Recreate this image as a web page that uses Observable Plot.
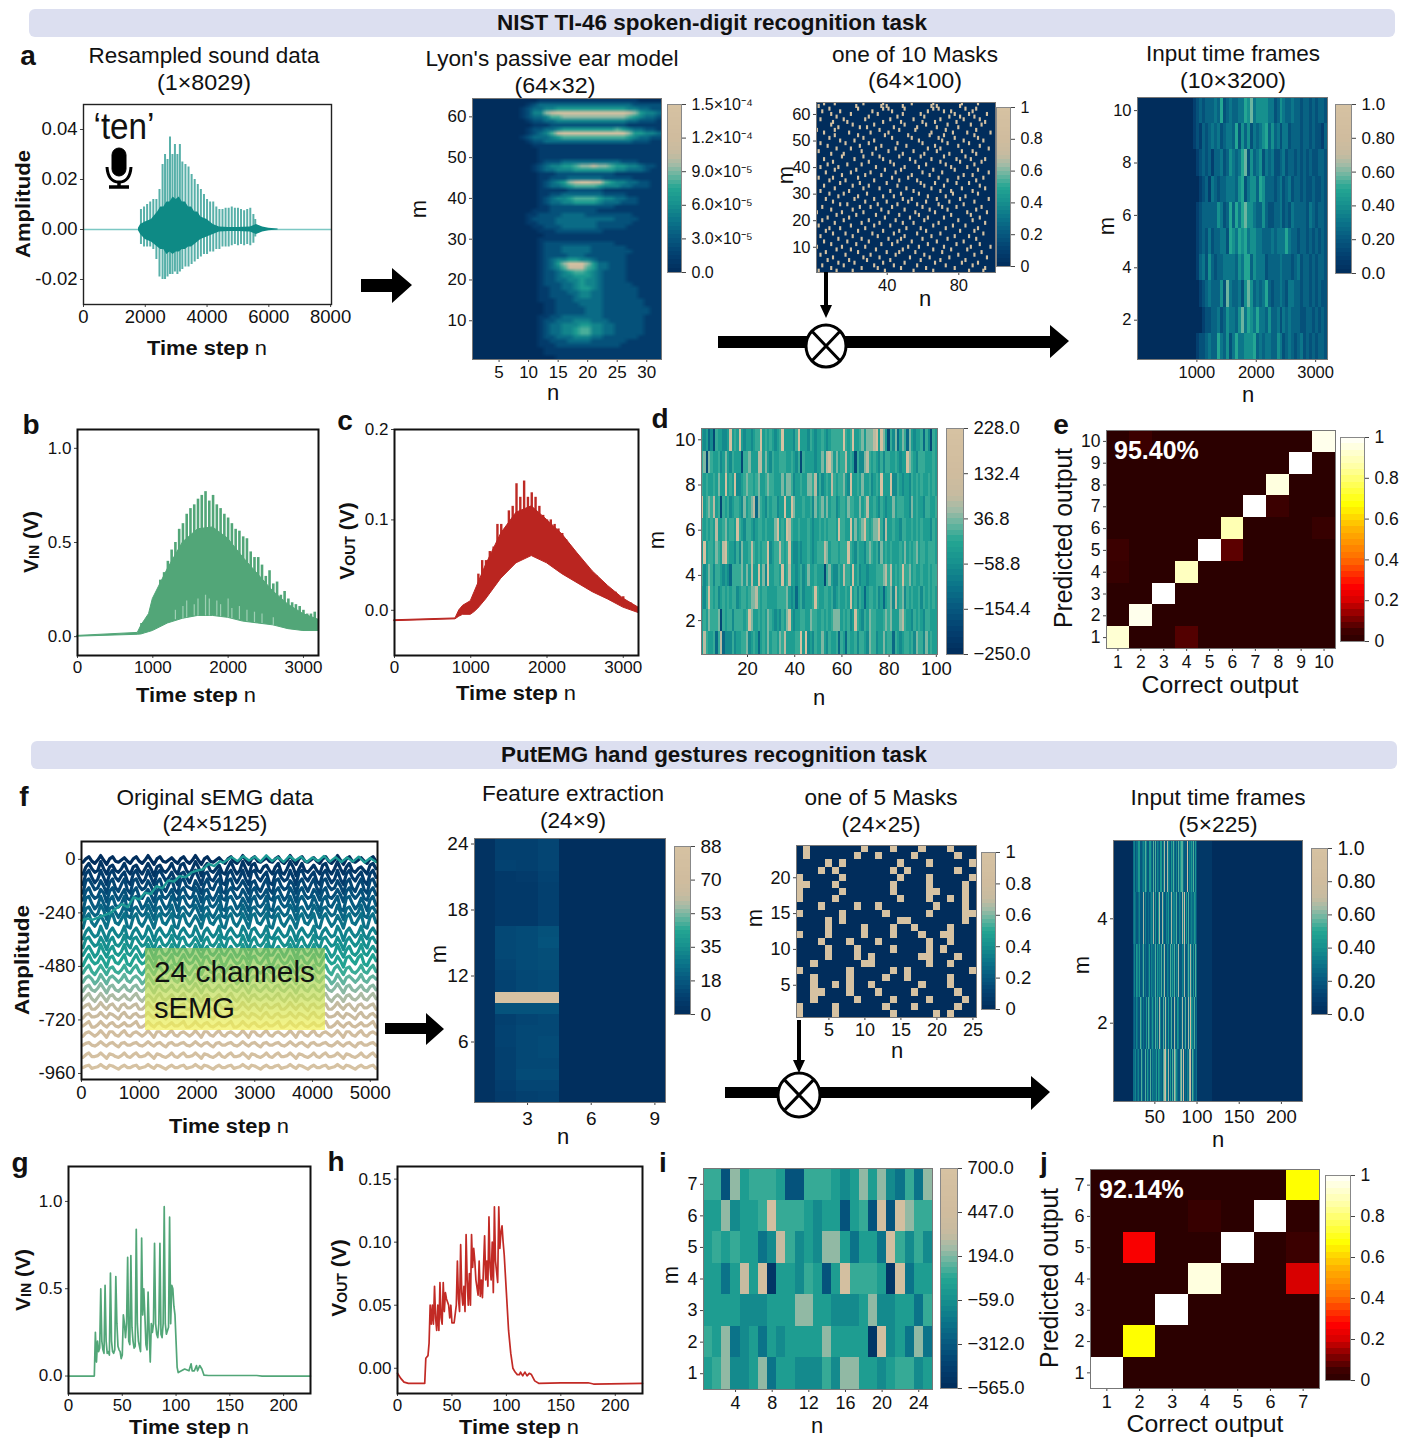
<!DOCTYPE html>
<html><head><meta charset="utf-8">
<script src="https://cdn.jsdelivr.net/npm/d3@7"></script>
<script src="https://cdn.jsdelivr.net/npm/@observablehq/plot@0.6"></script>
<style>html,body{margin:0;padding:0;background:#fff}#root{position:relative;width:1402px;height:1438px;overflow:hidden;font-family:"Liberation Sans",Arial,sans-serif}</style>
</head><body><div id="root"></div>
<script>
// ---------- colour maps ----------
const earthT=[0,.1,.2,.3,.4,.5,.58,.64,.7,.8,1];
const earthC=["#012d5c","#033f6f","#06587f","#0b7389","#16908e","#24a693","#6cb5a0","#a3bba6","#c6bba0","#d0bc9e","#d6c2a2"];
const hotT=[0,.05,.1,.2,.27,.4,.55,.67,.85,1];
const hotC=["#2b0000","#3f0000","#700000","#d80000","#ff0000","#ff6a00","#ffb400","#ffff00","#ffffa0","#ffffff"];
// digit-to-level decoding tables for the hand-read heat maps
const lyonLevels=[0,.08,.17,.27,.36,.45,.54,.62,.72,1];
const dLevels=[.06,.14,.26,.38,.46,.52,.6,.68,.92,1];
const iLevels=[.05,.18,.3,.38,.46,.52,.62,.72,.9,1];
const in1Levels=[0,.1,.17,.24,.31,.4,.5,.58,.66,.7];
const in2Levels=[0,.06,.2,.28,.36,.44,.55,.65,.88,1];
// ---------- panel a : resampled sound ----------
const aPulseN=[1860,1960,2060,2160,2260,2360,2460,2560,2640,2720,2800,2880,2960,3040,3120,3200,3300,3400,3500,3600,3700,3800,3900,4000,4100,4200,4300,4400,4500,4600,4700,4800,4900,5000,5100,5200,5300,5400,5500,5560];
const aPulseHi=[.008,.009,.010,.011,.012,.012,.016,.026,.030,.028,.037,.030,.034,.030,.034,.027,.026,.025,.022,.020,.018,.016,.014,.012,.011,.011,.009,.008,.008,.0085,.0085,.009,.0085,.0085,.008,.0075,.008,.0085,.006,.004];
const aPulseLo=[-.006,-.007,-.007,-.007,-.008,-.012,-.019,-.020,-.020,-.019,-.018,-.018,-.017,-.018,-.017,-.016,-.015,-.015,-.014,-.013,-.012,-.011,-.010,-.010,-.009,-.009,-.008,-.008,-.007,-.007,-.007,-.0065,-.006,-.0065,-.006,-.0065,-.006,-.0065,-.0055,-.003];
const aCoreN=[1780,1850,2000,2200,2400,2500,2600,2700,2800,2900,3000,3100,3200,3300,3400,3500,3600,3700,3800,4000,4200,4400,4700,5000,5400,5500,5600,5700,5800,6000,6300];
const aCoreHi=[.0005,.002,.003,.004,.007,.009,.009,.011,.011,.013,.012,.013,.011,.011,.009,.009,.007,.007,.005,.004,.002,.001,.0008,.0008,.001,.0015,.002,.0015,.001,.0005,.0002];
const aCoreLo=[-.0005,-.002,-.004,-.005,-.007,-.008,-.008,-.010,-.009,-.010,-.009,-.009,-.008,-.008,-.007,-.007,-.006,-.005,-.004,-.003,-.002,-.001,-.0008,-.0008,-.001,-.0015,-.002,-.0015,-.001,-.0005,-.0002];
// ---------- Lyon ear model, rows m=64..1, each digit indexes lyonLevels ----------
const lyonRows=["00000000000111111111111111110000","00000000012333333333333333322222","00000000123344555555555555443322","00000000124478999999999999875443","00000000123346677777777777654332","00000000012233444444444444332221","00000000001112222222222222111111","00000000012233455555555565433221","00000000012346899999999999755443","00000000123334566666666666543322","00000000012233333333333333322211","00000000001111111111111111111111","00000000000111111111111111111111","00000000000111111111111111111111","00000000000111111111111111111111","00000000000122233333333332221111","00000000001234455677877655443221","00000000001233444555555544333211","00000000000111222222222211111111","00000000000112223333332222211111","00000000000123457899886544332211","00000000000123345666654443322211","00000000000111112222221111111111","00000000000112233333332222111111","00000000000123445666654433221111","00000000000123344555543332221111","00000000000112222222222211111111","00000000001112222222211111111111","00000000011222233332222222211111","00000000012222333333333322221111","00000000011222333333322222211111","00000000001122233333322222111111","00000000000111222222221111111111","00000000000011111111111111111111","00000000000111111111111111111111","00000000000122222222222211111111","00000000000122233333222222111111","00000000000122233333222222211111","00000000000122223332222222111111","00000000000123445544322222111111","00000000000123579997533222111111","00000000000123468886533222111111","00000000000122345665432222111111","00000000000122344555432222111111","00000000000122334454432222111111","00000000000122233454432222211111","00000000000112233455432222221111","00000000000112223344332222221111","00000000000112222344332222221111","00000000000111222333332222222111","00000000000011222233332222222111","00000000000011222223332222222211","00000000000011222223332222222211","00000000000112233333332222222111","00000000000122333444333222222111","00000000000123344455443322222111","00000000000123344566443322222111","00000000000123344566443322222111","00000000000122333444332222221111","00000000000112223333222222111111","00000000000111222222222221111111","00000000000011111111111111111111","00000000000011111111111111111111","00000000000000111111111111111111"];
// ---------- one of 10 masks: set columns per row, m=64..1 ----------
const mask1Rows=[[5,11,27,38,54,66,82,91],[2,23,37,40,49,65,68,81],[8,24,38,41,50,66,69,84,90],[4,14,32,43,63,72,76,88],[9,20,35,49,59,78,86,96],[12,30,46,61,75,81,89],[3,16,28,42,55,70,83,92],[10,18,38,48,60,67,79,95],[9,21,33,50,62,74,87,93],[13,25,29,44,57,68,80],[1,11,36,47,56,73,90],[5,19,31,41,65,77,85,98],[11,24,39,52,64,72,89],[8,27,43,54,69,78,91],[14,22,33,58,71,83,94],[3,17,30,46,60,74,86],[7,25,37,51,67,80,92],[12,20,34,45,63,70,97],[2,26,41,55,68,82,88],[9,16,32,49,61,75,90],[15,27,36,47,59,72,84],[5,22,38,53,65,79,87,95],[10,30,42,56,70,81,93],[7,18,26,44,62,73,89],[3,13,34,50,58,76,85],[11,23,39,48,66,78,91],[6,20,31,45,60,71,97],[15,28,37,54,64,83,88],[2,10,24,43,52,69,80,94],[8,17,33,47,57,74,90],[14,25,40,59,67,79,86],[5,21,30,46,61,72,92],[11,27,36,51,65,82,95],[3,19,42,55,70,76,88],[8,16,29,48,58,77,91],[13,24,38,44,63,73,84],[6,22,33,49,54,68,81,97],[10,28,40,52,62,75,89],[14,18,35,46,57,69,83],[4,25,31,43,60,71,79,93],[9,21,37,50,64,74,90],[1,15,27,41,56,67,85,96],[12,23,34,47,58,76,87],[7,19,39,53,63,72,92],[4,16,30,45,61,80,88],[11,26,36,49,55,69,95],[2,20,33,42,66,77,84],[8,14,28,51,59,73,91],[6,24,38,47,62,81,89],[10,17,32,44,57,70,94],[3,21,35,50,65,78,86],[13,26,41,48,60,74,90],[5,18,30,46,54,68,83],[9,23,37,43,63,79,92],[1,15,28,52,58,72,87,98],[12,20,34,49,66,76,85],[6,24,40,47,56,71,93],[3,17,31,45,61,80,89],[10,27,36,53,64,75,96],[7,19,29,42,59,70,84],[13,22,38,50,67,82,91],[4,16,33,44,57,73,88],[9,26,35,48,62,78,95],[2,12,21,39,55,66,86,94]];
// ---------- input time frames 10x3200, rows m=10..1, 50 steps per digit ----------
const in1Lead="0000000000000000000";
const in1Rows=["12323334362343344657455554423543343323323233232","12132343423443625352434563534244233323323221322","01232313342354346725345243422342332323232233222","00123143233444356245536533323423423323223223212","01233333542363646755433532233423243333243233222","01232423344265465645544333434446433233232323222","01342532334444354663544423333433323423323233222","00123433352743342575343463233432443323323232222","00012233423544357465464435334243433322332323222","01223433643524644555634344335423432342323233222"];
// ---------- panel b ----------
const bEnvN=[0,800,850,900,950,1000,1100,1200,1400,1600,1800,2000,2200,2400,2600,2800,3000,3200];
const bEnvLo=[0,.01,.012,.018,.024,.03,.05,.07,.095,.11,.11,.10,.08,.07,.06,.04,.03,.03];
const bEnvHi=[.004,.02,.06,.09,.12,.2,.28,.36,.5,.57,.58,.52,.42,.33,.24,.17,.12,.09];
const bSpikeN=[850,900,950,1000,1050,1100,1150,1200,1250,1300,1350,1400,1450,1500,1550,1600,1650,1700,1750,1800,1850,1900,1950,2000,2050,2100,2150,2200,2250,2300,2350,2400,2450,2500,2550,2600,2650,2700,2750,2800,2850,2900,2950,3000,3050,3100,3150];
const bSpikeHi=[.07,.08,.1,.17,.22,.3,.34,.4,.46,.5,.57,.6,.65,.68,.7,.73,.75,.77,.72,.75,.7,.68,.65,.63,.6,.57,.56,.53,.52,.45,.42,.42,.38,.32,.35,.28,.29,.22,.24,.2,.18,.17,.16,.14,.12,.12,.13];
const bPaleN=[1300,1400,1450,1550,1600,1700,1750,1850,1900,2000,2050,2150,2250,2350,2450,2600];
const bPaleLo=[.09,.095,.1,.11,.11,.11,.11,.11,.105,.1,.095,.09,.08,.075,.07,.06];
const bPaleHi=[.14,.16,.19,.17,.2,.22,.2,.19,.17,.2,.15,.16,.14,.13,.12,.1];
// ---------- panel c ----------
const cEnvN=[0,800,850,900,1000,1050,1100,1200,1400,1600,1800,2000,2200,2400,2600,2800,3000,3200];
const cEnvLo=[-.012,-.01,-.007,-.005,-.005,-.002,.002,.012,.035,.052,.06,.052,.04,.03,.02,.012,.003,-.003];
const cEnvHi=[-.011,-.009,0,.005,.01,.02,.03,.05,.085,.108,.115,.1,.084,.063,.043,.027,.013,.003];
const cSpikeN=[1100,1150,1200,1250,1300,1350,1400,1450,1500,1550,1600,1650,1700,1750,1800,1850,1900,1950,2000,2050,2100,2150,2200,2250,2300,2350,2400,2450,2500,2550,2600,2650,2700,2750,2800,2900,3000,3100];
const cSpikeHi=[.04,.055,.055,.065,.07,.095,.095,.09,.11,.115,.14,.125,.143,.125,.13,.125,.115,.105,.1,.1,.095,.09,.085,.078,.07,.065,.06,.055,.05,.045,.04,.038,.032,.028,.025,.02,.015,.008];
// ---------- panel d, rows m=10..1 ----------
const dRows=["4342315443348454843443455845454345944443584443543445434555559545944564666784864153624652643445253154","5616544534643544415564447746435445554454351544443446478646455745415336754543535544543448654355544454","5454454644845483345655456445655444646653445446657353454754556438445464453454944483354344354545445454","9456574515453455436456726543545534494486444544536456464553455465544645744543543446455544364544355445","5454547445645548543554345545444684548754454445434454545554855449464568545668537445443554454545444354","4945546547854435364457545455834557545843343445434555764555455585435443565453645454445464545645545554","5346535543432555564647448463944554845744345346445444156433547554845344344455567574545855645445445455","4358545345454553455456675455444455556434245344458544554534544548453542455453424563745635454453545454","4546555615455355554586445454654343546843445544655445454566645453485435465544456564446754435454355444","4754452572333534455634542454645546574444559493435446435445254254453554365534464552543455453655364544"];
// ---------- panel e, rows predicted 10..1 ----------
const eRows=[[0,.04,0,0,0,0,0,0,0,.97],[0,0,0,0,0,0,0,0,1,0],[0,0,0,0,0,0,0,.95,0,0],[0,0,0,0,0,0,1,.04,0,0],[0,0,0,0,0,.88,0,0,0,.03],[.04,0,0,0,1,.08,0,0,0,0],[.03,0,0,.9,0,0,0,0,0,0],[0,0,1,0,0,0,0,0,0,0],[0,.97,0,0,0,0,0,0,0,0],[.93,0,0,.07,0,0,0,0,0,0]];
// ---------- panel f : 23 channels plus one drifting channel ----------
const fBase=[-3,-42,-81,-120,-159,-198,-237,-276,-332,-373,-414,-455,-496,-537,-578,-619,-660,-701,-742,-783,-829,-880,-930];
const fAmp=[5,8,8,8,8,8,8,8,8,8,8,7,7,7,7,6,6,5,5,5,4,4,3.5];
const fChan=["3684259516843574268425951684357426842595168435742684259516843574368425951684357426842595168435742684","2685349526743584267425851674358427842596168435732695249517843674268325961584357427842595268435642785","1795249517953683179524951796358417852695178436921795259418953682179534951895368317952494179536831795","1896348517942693189534851794269318954385169437921894358517842693189534861795269418953485179426931895","2795348617952583279436851794358327953496178425932796348517953583279524961795348627943585179535832795","1895249517943592189624851795249618953495179435921896248517943592189534951796249517943692189524851794","2785349617852593278534951784359327853695178425932785349517853593268534961785249627853495178535932785","1794258517943692179425951794369217942585179436821794259518943692179425851794369217952485179436921794","2685349516853593268524961685359426853495168535932685349617853593258534961685359326853496168535942685","2785348516843594278534851684359427843585168435942785349516843593278534851684259427853485168535942785","3685249526843594368524951684359436852495268435943685249516843593368525951684359426852495268435943685","2695348517843693269534851785369326953485178436932695348617843693269534851784369326953485178537932695","3684258526743584368425852674358436842585267435843684258526743584368325852684358436842685267435843684","3675248526753584367524852675358436752485267535843675248526743584367524852675358436752485267535843675","3674358526743574367435852674357436743585267435743674358526743574367435752674367436743585267435743674","3684258526743574368425752684357436842585267435743684258526743574368425852674357436842575267435843684","4673358536742674467335853674267446733585367426744673358536742674467335853674267446733585367426744673","3674458537642684367445853764268436744585376426843674458537642684367445853764268436744585376426843674","4683358536743574468335853674357446833585367435744683358536743574468335853674357446833585367435744683","3675358527743684367535852774368436753585277436843675358527743684367535852774368436753585277436843675","4674358536742674467435853674267446743585367426744674358536742674467435853674267446743585367426744674","3684458527643584368445852764358436844585276435843684458527643584368445852764358436844585276435843684","4673458537642574467345853764257446734585376425744673458537642574467345853764257446734585376425744673"];
const fTealN=[0,100,200,400,500,700,800,900,1000,1100,1200,1300,1400,1500,1600,1700,1800,1900,2000,2100,2200,2300,2400,2450,2600,2700,2800,2900,3000,3100,3200,3300,3400,3500,3600,3700,3800,3900,4000,4100,4200,4300,4400,4500,4600,4700,4800,4900,5000,5100];
const fTealV=[-275,-265,-270,-250,-240,-200,-215,-170,-180,-150,-155,-120,-130,-95,-100,-75,-80,-60,-50,-45,-20,-30,-8,-15,10,-8,14,-5,12,-10,18,-8,10,-12,15,-5,12,-12,8,-8,15,-10,10,-12,8,-10,12,-14,6,-12];
// ---------- feature extraction, rows m=24..1, n=1..9 ----------
const featRows=[[3,9,9,11,1,1,1,1,1],[3,9,9,11,1,1,1,1,1],[3,10,9,11,1,1,1,1,1],[3,6,7,10,1,1,1,1,1],[3,6,6,9,1,1,1,1,1],[3,6,6,9,1,1,1,1,1],[3,6,6,9,1,1,1,1,1],[3,6,6,9,1,1,1,1,1],[3,12,13,15,1,1,1,1,1],[3,12,13,16,1,1,1,1,1],[3,12,13,14,1,1,1,1,1],[3,11,13,14,1,1,1,1,1],[3,10,12,13,1,1,1,1,1],[3,10,12,13,1,1,1,1,1],[3,88,88,88,1,1,1,1,1],[3,16,16,16,1,1,1,1,1],[3,9,11,12,1,1,1,1,1],[3,10,12,12,1,1,1,1,1],[3,10,12,13,1,1,1,1,1],[3,9,12,13,1,1,1,1,1],[3,9,12,12,1,1,1,1,1],[3,9,13,13,1,1,1,1,1],[3,8,11,11,1,1,1,1,1],[3,7,9,10,1,1,1,1,1]];
// ---------- one of 5 masks: set columns per row, m=24..1 ----------
const mask2Rows=[[2,10,14,18,22],[2,9,12,17,23],[5,7,15,19,25],[4,6,14,16,23],[1,7,15,19,25],[1,2,6,14,19,24],[1,7,14,19,20,24],[1,6,15,19,22,24],[4,9,12,20,24],[1,7,13,19,24,25],[5,7,15,16,24],[5,10,14,17,22],[1,5,10,14,18,21,22],[4,8,12,19,22],[5,9,14,19,21],[5,9,11,18,19,23],[3,10,11,19,22],[1,8,14,16,25],[3,8,13,16,22],[3,6,8,11,18,22],[3,4,8,12,17,23],[3,9,14,19,24],[1,6,13,17,23],[1,6,14,20,22]];
// ---------- input time frames 5x225, rows m=5..1, n=26..118 ----------
const in2Tail="111111111111111111";
const in2Rows=["342323552232436423255326226243525524372274322536372426352663226282437536252","343222342223724226323437325225372274322435253734483622434274822526238433542","242524352234623226352433236253243624372243226353622437226243725236373425263","232433226427322522642353226352374226237325243622743254226372364227382543623","334223422634226253326243733525243326378437225263726432262738236243782264223"];
// ---------- panel g ----------
const gN=[0,24,25,26,27,28,29,30,31,32,33,34,35,36,37,38,39,40,41,42,43,44,45,46,47,48,49,50,51,52,53,54,55,56,57,58,59,60,61,62,63,64,65,66,67,68,69,70,71,72,73,74,75,76,77,78,79,80,81,82,83,84,85,86,87,88,89,90,91,92,93,94,95,96,97,98,99,100,101,102,105,108,112,114,115,117,119,120,122,124,126,130,175,180,225];
const gV=[0,0,.25,.08,.2,.14,.16,.5,.2,.15,.13,.52,.2,.13,.14,.12,.59,.2,.14,.13,.15,.57,.3,.17,.15,.14,.1,.12,.35,.3,.22,.3,.68,.2,.18,.69,.28,.2,.16,.17,.84,.3,.2,.17,.14,.79,.35,.5,.35,.18,.15,.48,.25,.08,.3,.25,.3,.76,.3,.24,.22,.3,.76,.24,.22,.3,.97,.3,.24,.26,.28,.91,.3,.52,.5,.4,.35,.2,.05,.02,.03,.04,.03,.07,.03,.03,.06,.03,.06,.04,.005,.003,.003,0,0];
// ---------- panel h ----------
const hN=[0,3,6,10,25,26,28,29,30,31,32,33,34,35,36,37,38,39,40,41,42,43,44,45,47,48,49,50,52,54,55,56,57,58,59,60,61,62,63,64,65,66,67,68,69,70,71,72,74,75,76,77,78,80,81,82,83,84,85,86,87,88,89,90,92,93,94,95,96,97,98,100,102,104,106,108,110,112,113,115,117,119,121,123,126,130,150,175,180,225];
const hV=[-.004,-.008,-.011,-.012,-.012,.008,.01,.02,.05,.035,.05,.035,.065,.04,.03,.05,.03,.068,.04,.035,.068,.045,.06,.055,.05,.04,.05,.036,.036,.05,.085,.055,.045,.098,.06,.05,.065,.045,.106,.07,.05,.075,.05,.106,.08,.095,.085,.07,.058,.085,.057,.07,.056,.105,.07,.085,.065,.12,.08,.07,.1,.06,.128,.085,.068,.128,.095,.108,.113,.1,.09,.06,.03,.012,0,-.003,-.005,-.005,-.003,-.006,-.003,-.006,-.004,-.005,-.01,-.012,-.0115,-.0115,-.0125,-.012];
// ---------- panel i, rows m=7..1 ----------
const iRows=["5516455541155543464632526","4463445855543441451818655","4545442375343664244285353","4424748044354148555408244","4444333444664433346334425","5462342434444644440834262","4563346244333536644345534"];
// ---------- panel j, rows predicted 7..1 ----------
const jRows=[[0,0,0,0,0,0,.67],[0,0,0,.03,0,1,.01],[0,.26,0,0,1,0,.04],[0,0,0,.95,0,0,.2],[0,0,1,0,0,0,0],[0,.67,0,0,0,0,0],[1,0,0,0,0,0,0]];

// ---------- helpers ----------
const root=document.getElementById("root");
const FF='"Liberation Sans",Arial,sans-serif', ML=70,MR=80,MT=14,MB=40;
const earth={type:"linear",domain:earthT,range:earthC}, hot={type:"linear",domain:hotT,range:hotC};
function labelled(ticks,labels){const m=new Map(ticks.map((t,i)=>[t,labels?labels[i]:String(t)]));return d=>m.get(d);}
function panel(b,o){
  const fs=o.fs||17, axes=[];
  if(o.xt) axes.push(Plot.axisX({ticks:o.xt,tickFormat:labelled(o.xt,o.xl),label:null,tickSize:o.ts??3,tickPadding:o.xp??4,fontSize:fs,anchor:"bottom",stroke:"#444"}));
  if(o.yt) axes.push(Plot.axisY({ticks:o.yt,tickFormat:labelled(o.yt,o.yl),label:null,tickSize:o.ts??3,tickPadding:o.yp??3,fontSize:fs,anchor:o.right?"right":"left",stroke:"#444"}));
  const p=Plot.plot({width:b[2]-b[0]+ML+MR,height:b[3]-b[1]+MT+MB,marginLeft:ML,marginRight:MR,marginTop:MT,marginBottom:MB,
    x:{domain:o.xd,axis:o.xt?undefined:null},y:{domain:o.yd,axis:o.yt?undefined:null},color:o.color||earth,
    style:{fontFamily:FF,background:"transparent",color:"#111",overflow:"visible"},
    marks:[...(o.bg?[Plot.frame({fill:o.bg,stroke:null})]:[]),...o.marks,...axes,Plot.frame({stroke:o.fc||"#777",strokeWidth:o.fw||1})]});
  p.style.position="absolute";p.style.left=(b[0]-ML)+"px";p.style.top=(b[1]-MT)+"px";p.style.maxWidth="none";p.style.overflow="visible";
  root.append(p);
}
function heat(cells,extra){return Plot.rect(cells,{x1:"x1",x2:"x2",y1:"y1",y2:"y2",fill:"t",shapeRendering:"crispEdges",clip:true,...extra});}
function digitCells(rows,x0,dx,yTop,dy,levels){return rows.flatMap((r,i)=>[...r].map((c,j)=>({x1:x0+j*dx,x2:x0+(j+1)*dx,y1:yTop-(i+1)*dy,y2:yTop-i*dy,t:levels?levels[+c]:+c/9})));}
function numCells(rows,scale){return rows.flatMap((r,i)=>r.map((v,j)=>({x1:j+.5,x2:j+1.5,y1:rows.length-i-.5,y2:rows.length-i+.5,t:v/scale})));}
function maskCells(rows,gx=0,gy=0){return rows.flatMap((r,i)=>r.map(c=>({x1:c-.5-gx,x2:c+.5+gx,y1:rows.length-i-.5-gy,y2:rows.length-i+.5+gy,t:1})));}
function cbar(b,lo,hi,ticks,labels,color,fs){
  const n=color===hot?32:40;
  const lv=d3.range(n).map(i=>({x1:0,x2:1,y1:lo+(hi-lo)*i/n,y2:lo+(hi-lo)*(i+1)/n,t:(i+.5)/n}));
  panel(b,{xd:[0,1],yd:[lo,hi],yt:ticks,yl:labels,right:true,color,fs:fs||16,yp:6,ts:4,marks:[heat(lv)],fc:"#888"});
}
const UNIT=[0,.2,.4,.6,.8,1];

// ---------- a ----------
panel([83,104,331,304],{xd:[0,8029],yd:[-.03,.05],xt:[0,2000,4000,6000,8000],yt:[-.02,0,.02,.04],yl:["-0.02","0.00","0.02","0.04"],fc:"#222",fw:1.4,fs:18.5,xp:2,
 marks:[Plot.ruleY([0],{stroke:"#7cc8c4",strokeWidth:1.4}),
  Plot.ruleX(aPulseN,{x:d=>d,y1:(d,i)=>aPulseLo[i],y2:(d,i)=>aPulseHi[i],stroke:"#58b0a9",strokeWidth:2}),
  Plot.areaY(aCoreN,{x:d=>d,y1:(d,i)=>aCoreLo[i],y2:(d,i)=>aCoreHi[i],fill:"#0e8a85"})]});
// ---------- Lyon ----------
panel([472,98,661,359],{xd:[.5,32.5],yd:[.5,64.5],xt:[5,10,15,20,25,30],yt:[10,20,30,40,50,60],xp:3,
 marks:[Plot.raster(lyonRows.join("").split("").map(c=>lyonLevels[+c]),{width:32,height:64,x1:.5,x2:32.5,y1:64.5,y2:.5})]});
cbar([667,104,681,272],0,1.5e-4,[0,3e-5,6e-5,9e-5,1.2e-4,1.5e-4],["0.0","3.0×10⁻⁵","6.0×10⁻⁵","9.0×10⁻⁵","1.2×10⁻⁴","1.5×10⁻⁴"],earth,16);
// ---------- mask 1 ----------
panel([816,102,995,272],{xd:[.5,100.5],yd:[.5,64.5],xt:[40,80],yt:[10,20,30,40,50,60],bg:earthC[0],fs:16.5,marks:[heat(maskCells(mask1Rows,.1,.25),{shapeRendering:"auto"})]});
cbar([996,107,1010,266],0,1,UNIT,["0","0.2","0.4","0.6","0.8","1"],earth,16);
// ---------- input frames 1 ----------
panel([1137,97,1327,359],{xd:[0,3200],yd:[.5,10.5],xt:[1000,2000,3000],yt:[2,4,6,8,10],fs:16.5,marks:[heat(digitCells(in1Rows.map(r=>in1Lead+r),0,50,10.5,1,in1Levels))]});
cbar([1335,104,1351,273],0,1,UNIT,["0.0","0.20","0.40","0.60","0.80","1.0"],earth,17);
// ---------- b ----------
panel([77,429,318,655],{xd:[0,3200],yd:[-.1,1.1],xt:[0,1000,2000,3000],yt:[0,.5,1],yl:["0.0","0.5","1.0"],fc:"#111",fw:2,xp:2,
 marks:[Plot.ruleX(bSpikeN,{x:d=>d,y1:(d,i)=>bSpikeHi[i]*.6,y2:(d,i)=>bSpikeHi[i],stroke:"#52a678",strokeWidth:2.6}),
  Plot.areaY(bEnvN,{x:d=>d,y1:(d,i)=>bEnvLo[i],y2:(d,i)=>bEnvHi[i],fill:"#52a678",stroke:"#52a678"}),
  Plot.ruleX(bPaleN,{x:d=>d,y1:(d,i)=>bPaleLo[i],y2:(d,i)=>bPaleHi[i],stroke:"#9ed0b4",strokeWidth:1.2})]});
// ---------- c ----------
panel([394,429,638,655],{xd:[0,3200],yd:[-.05,.2],xt:[0,1000,2000,3000],yt:[0,.1,.2],yl:["0.0","0.1","0.2"],fc:"#111",fw:2,xp:2,
 marks:[Plot.ruleX(cSpikeN,{x:d=>d,y1:(d,i)=>cSpikeHi[i]*.7,y2:(d,i)=>cSpikeHi[i],stroke:"#bd2a24",strokeWidth:2.4}),
  Plot.areaY(cEnvN,{x:d=>d,y1:(d,i)=>cEnvLo[i],y2:(d,i)=>cEnvHi[i],fill:"#ba2520",stroke:"#ba2520"})]});
// ---------- d ----------
panel([701,428,937,654],{xd:[.5,100.5],yd:[.5,10.5],xt:[20,40,60,80,100],yt:[2,4,6,8,10],fs:18.5,marks:[heat(digitCells(dRows,.5,1,10.5,1,dLevels))]});
cbar([946,428,963,654],-250,228,[-250,-154.4,-58.8,36.8,132.4,228],["−250.0","−154.4","−58.8","36.8","132.4","228.0"],earth,18.5);
// ---------- e ----------
panel([1106,430,1335,648],{xd:[.5,10.5],yd:[.5,10.5],xt:d3.range(1,11),yt:d3.range(1,11),color:hot,fs:17.5,marks:[heat(numCells(eRows,1))]});
cbar([1340,437,1364,641],0,1,UNIT,["0","0.2","0.4","0.6","0.8","1"],hot,17.5);
// ---------- f ----------
const fData=fChan.flatMap((s,c)=>[...s].map((d,i)=>({n:i*51.25+25,v:fBase[c]+(+d-5)*fAmp[c],c})));
panel([81,841,377,1079],{xd:[0,5125],yd:[-987,80],xt:[0,1000,2000,3000,4000,5000],yt:[-960,-720,-480,-240,0],yl:["-960","-720","-480","-240","0"],fs:18.5,fc:"#111",fw:2,xp:3,
 marks:[Plot.line(fData,{x:"n",y:"v",z:"c",stroke:d=>Math.min(1,-fBase[d.c]/945),strokeWidth:3.2}),
  Plot.line(fTealN,{x:d=>d,y:(d,i)=>fTealV[i],stroke:"#1d9a95",strokeWidth:2.4})]});
// ---------- feature ----------
panel([474,838,665,1102],{xd:[.5,9.5],yd:[.5,24.5],xt:[3,6,9],yt:[6,12,18,24],fs:19,xp:6,marks:[heat(numCells(featRows,88))]});
cbar([674,846,690,1014],0,88,[0,17.6,35.2,52.8,70.4,88],["0","18","35","53","70","88"],earth,19);
// ---------- mask 2 ----------
panel([796,845,976,1017],{xd:[.5,25.5],yd:[.5,24.5],xt:[5,10,15,20,25],yt:[5,10,15,20],bg:earthC[0],fs:18,xp:3,marks:[heat(maskCells(mask2Rows))]});
cbar([981,852,995,1009],0,1,UNIT,["0","0.2","0.4","0.6","0.8","1"],earth,18.5);
// ---------- input frames 2 ----------
panel([1113,840,1302,1101],{xd:[1,225],yd:[.5,5.5],xt:[50,100,150,200],yt:[2,4],bg:earthC[0],fs:18.5,xp:5,marks:[heat(digitCells(in2Rows.map(r=>r+in2Tail),25,1,5.5,1,in2Levels))]});
cbar([1311,848,1327,1014],0,1,UNIT,["0.0","0.20","0.40","0.60","0.80","1.0"],earth,19.5);
// ---------- g ----------
panel([68,1166,310,1393],{xd:[0,225],yd:[-.1,1.2],xt:[0,50,100,150,200],yt:[0,.5,1],yl:["0.0","0.5","1.0"],fc:"#111",fw:2,xp:2,
 marks:[Plot.line(gN,{x:d=>d,y:(d,i)=>gV[i],stroke:"#52a678",strokeWidth:1.7})]});
// ---------- h ----------
panel([397,1166,642,1393],{xd:[0,225],yd:[-.02,.16],xt:[0,50,100,150,200],yt:[0,.05,.1,.15],yl:["0.00","0.05","0.10","0.15"],fc:"#111",fw:2,xp:2,
 marks:[Plot.line(hN,{x:d=>d,y:(d,i)=>hV[i],stroke:"#c22a25",strokeWidth:1.7})]});
// ---------- i ----------
panel([703,1168,932,1389],{xd:[.5,25.5],yd:[.5,7.5],xt:[4,8,12,16,20,24],yt:[1,2,3,4,5,6,7],fs:18,marks:[heat(digitCells(iRows,.5,1,7.5,1,iLevels))]});
cbar([940,1168,957,1388],-565,700,[-565,-312,-59,194,447,700],["−565.0","−312.0","−59.0","194.0","447.0","700.0"],earth,18.5);
// ---------- j ----------
panel([1090,1169,1319,1388],{xd:[.5,7.5],yd:[.5,7.5],xt:d3.range(1,8),yt:d3.range(1,8),color:hot,fs:18,marks:[heat(numCells(jRows,1))]});
cbar([1325,1175,1350,1380],0,1,UNIT,["0","0.2","0.4","0.6","0.8","1"],hot,17.5);

// ---------- page-level annotation layer ----------
const ov=d3.select(root).append("svg").attr("width",1402).attr("height",1438).style("position","absolute").style("left",0).style("top",0).style("font-family",FF);
const grad=ov.append("defs").append("linearGradient").attr("id","yg").attr("x1",0).attr("x2",0).attr("y1",0).attr("y2",1);
grad.append("stop").attr("offset","0%").attr("stop-color","#84c45a").attr("stop-opacity",.72);
grad.append("stop").attr("offset","100%").attr("stop-color","#f4f25a").attr("stop-opacity",.72);
function T(s,x,y,size,o={}){
  const t=ov.append("text").attr("x",x).attr("y",y).attr("font-size",size).attr("text-anchor",o.a||"middle").attr("fill",o.c||"#111");
  if(o.w) t.attr("font-weight",o.w);
  if(o.rot){t.attr("transform",`rotate(-90 ${x} ${y})`).attr("dominant-baseline","central");}
  if(o.len) t.attr("textLength",o.len).attr("lengthAdjust","spacingAndGlyphs");
  if(o.html) t.html(s); else t.text(s);
  return t;
}
function banner(x0,y0,x1,y1,s,cx,len){ov.append("rect").attr("x",x0).attr("y",y0).attr("width",x1-x0).attr("height",y1-y0).attr("rx",6).attr("fill","#dcdff0");T(s,cx,y0+21,22,{w:"bold",len});}
banner(29,9,1395,37,"NIST TI-46 spoken-digit recognition task",712,430);
banner(31,741,1397,769,"PutEMG hand gestures recognition task",714,426);
[["a",28,65],["b",31,434],["c",345,430],["d",660,428],["e",1061,434],["f",24,806],["g",20,1172],["h",336,1171],["i",663,1172],["j",1044,1172]].forEach(d=>T(d[0],d[1],d[2],28,{w:"bold"}));
[["Resampled sound data",204,63,231],["(1×8029)",204,90,94],["Lyon's passive ear model",552,66,253],["(64×32)",555,93,81],["one of 10 Masks",915,62,166],["(64×100)",915,88,94],["Input time frames",1233,61,174],["(10×3200)",1233,88,106],["Original sEMG data",215,805,197],["(24×5125)",215,831,105],["Feature extraction",573,801,182],["(24×9)",573,828,66],["one of 5 Masks",881,805,153],["(24×25)",881,832,79],["Input time frames",1218,805,175],["(5×225)",1218,832,79]].forEach(d=>T(d[0],d[1],d[2],22,{len:d[3]}));
const TS='<tspan font-weight="bold">Time step</tspan> n';
[[207,355],[196,702],[516,700],[229,1133],[189,1434],[519,1434]].forEach(d=>T(TS,d[0],d[1],20,{html:true,len:120}));
T("Amplitude",22,204,21,{w:"bold",rot:true,len:108});T("Amplitude",21,960,21,{w:"bold",rot:true,len:110});
const VI='V<tspan dy="4" font-size="14">IN</tspan><tspan dy="-4"> (V)</tspan>',VO='V<tspan dy="4" font-size="14">OUT</tspan><tspan dy="-4"> (V)</tspan>';
T(VI,30,542,21,{w:"bold",rot:true,html:true});T(VO,346,541,21,{w:"bold",rot:true,html:true});
T(VI,22,1280,21,{w:"bold",rot:true,html:true});T(VO,338,1278,21,{w:"bold",rot:true,html:true});
[[553,400],[925,306],[1248,402],[819,705],[563,1144],[897,1058],[1218,1147],[817,1433]].forEach(d=>T("n",d[0],d[1],22));
[[418,209],[785,175],[1106,226],[656,540],[438,954],[754,918],[1081,965],[670,1275]].forEach(d=>T("m",d[0],d[1],22,{rot:true}));
T("Correct output",1220,693,24,{len:157});T("Predicted output",1063,538,25,{rot:true,len:180});
T("Correct output",1205,1432,24,{len:157});T("Predicted output",1049,1278,25,{rot:true,len:180});
T("95.40%",1114,459,25,{a:"start",w:"bold",c:"#fff"});T("92.14%",1099,1198,25,{a:"start",w:"bold",c:"#fff"});
T("‘ten’",124,139,36,{len:61});
// mic icon
const mic=ov.append("g").attr("fill","none").attr("stroke","#000");
mic.append("rect").attr("x",112).attr("y",148).attr("width",14).attr("height",28).attr("rx",7).attr("fill","#000");
mic.append("path").attr("d","M107 167 Q108 182 119 182 Q130 182 131 167").attr("stroke-width",3);
mic.append("path").attr("d","M119 182 V187 M109 187 H129").attr("stroke-width",3.5);
// overlay panel on f
ov.append("rect").attr("x",145).attr("y",948).attr("width",180).attr("height",82).attr("fill","url(#yg)");
T("24 channels",154,982,29,{a:"start",len:161});T("sEMG",154,1018,29,{a:"start",len:81});
// arrows
function poly(pts){ov.append("polygon").attr("points",pts).attr("fill","#000");}
poly("361,279 392,279 392,268 412,285 392,303 392,292 361,292");
poly("385,1023 426,1023 426,1013 444,1029 426,1045 426,1034 385,1034");
poly("718,336 1050,336 1050,325 1069,341 1050,358 1050,348 718,348");
poly("725,1087 1031,1087 1031,1076 1050,1092 1031,1110 1031,1098 725,1098");
poly("824,272 828,272 828,305 832,305 826,318 820,305 824,305");
poly("797,1020 801,1020 801,1060 805,1060 799,1073 793,1060 797,1060");
function otimes(cx,cy,rx,ry){
  ov.append("ellipse").attr("cx",cx).attr("cy",cy).attr("rx",rx).attr("ry",ry).attr("fill","#fff").attr("stroke","#000").attr("stroke-width",3);
  const k=.7;ov.append("path").attr("d",`M${cx-rx*k} ${cy-ry*k} L${cx+rx*k} ${cy+ry*k} M${cx+rx*k} ${cy-ry*k} L${cx-rx*k} ${cy+ry*k}`).attr("stroke","#000").attr("stroke-width",3);
}
otimes(826,346,20,21);otimes(799,1095,21,22);
</script></body></html>
